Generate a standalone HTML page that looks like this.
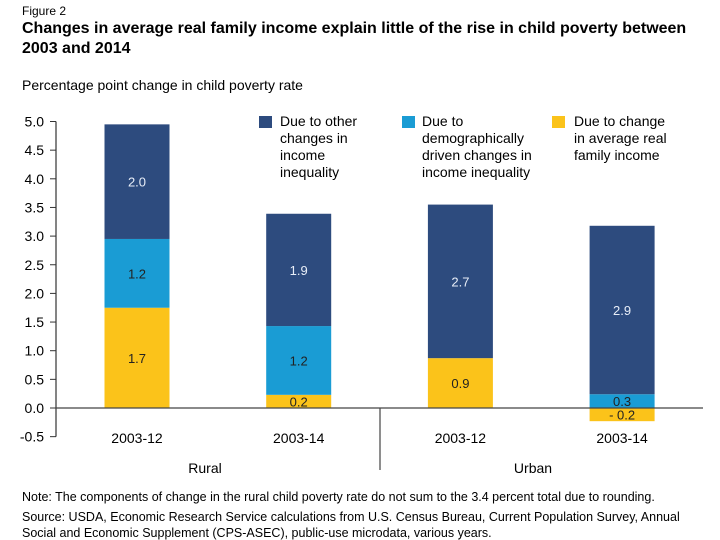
<!DOCTYPE html>
<html><head><meta charset="utf-8"><style>
body{margin:0;background:#fff;width:720px;height:540px;overflow:hidden;font-family:"Liberation Sans",Arial,sans-serif;color:#111}
svg{position:absolute;left:0;top:0}
</style></head><body>
<svg width="720" height="540" id="c">
<text x="22" y="15" font-size="12">Figure 2</text>
<text x="22" y="33" font-size="16" font-weight="bold">Changes in average real family income explain little of the rise in child poverty between</text>
<text x="22" y="53" font-size="16" font-weight="bold">2003 and 2014</text>
<text x="22" y="90" font-size="14">Percentage point change in child poverty rate</text>
<g id="plot"></g>
<g font-size="14">
<rect x="259" y="116" width="13" height="12" fill="#2d4b7e"/>
<text x="280" y="126"><tspan x="280">Due to other</tspan><tspan x="280" dy="17">changes in</tspan><tspan x="280" dy="17">income</tspan><tspan x="280" dy="17">inequality</tspan></text>
<rect x="402" y="116" width="13" height="12" fill="#1a9cd4"/>
<text x="422" y="126"><tspan x="422">Due to</tspan><tspan x="422" dy="17">demographically</tspan><tspan x="422" dy="17">driven changes in</tspan><tspan x="422" dy="17">income inequality</tspan></text>
<rect x="552" y="116" width="13" height="12" fill="#fbc31a"/>
<text x="574" y="126"><tspan x="574">Due to change</tspan><tspan x="574" dy="17">in average real</tspan><tspan x="574" dy="17">family income</tspan></text>
</g>
<text x="205" y="473" font-size="14" text-anchor="middle">Rural</text>
<text x="533" y="473" font-size="14" text-anchor="middle">Urban</text>
<g font-size="12.5">
<text x="22" y="501">Note: The components of change in the rural child poverty rate do not sum to the 3.4 percent total due to rounding.</text>
<text x="22" y="521">Source: USDA, Economic Research Service calculations from U.S. Census Bureau, Current Population Survey, Annual</text>
<text x="22" y="537">Social and Economic Supplement (CPS-ASEC), public-use microdata, various years.</text>
</g>
</svg>
<script>
const categories=["2003-12","2003-14","2003-12","2003-14"];
const incomeVals=[1.75,0.23,0.87,-0.23];
const demoVals=[1.2,1.2,0,0.24];
const otherVals=[2.0,1.96,2.68,2.94];
const incomeLabels=["1.7","0.2","0.9","- 0.2"];
const demoLabels=["1.2","1.2","","0.3"];
const otherLabels=["2.0","1.9","2.7","2.9"];
const yTicks=[5.0,4.5,4.0,3.5,3.0,2.5,2.0,1.5,1.0,0.5,0.0,-0.5];
const NS="http://www.w3.org/2000/svg";
const g=document.getElementById('plot');
const y0=408,ppu=57.3;
function y(v){return y0-v*ppu;}
function xc(i){return 137+i*161.7;}
function mk(t,a){const e=document.createElementNS(NS,t);for(const k in a)e.setAttribute(k,a[k]);g.appendChild(e);return e;}
const ax=mk('line',{x1:56,y1:y(5),x2:56,y2:y(-0.5),stroke:'#333','stroke-width':1.2});


yTicks.forEach(v=>{
 const t=mk('line',{x1:50,x2:56,y1:y(v),y2:y(v),stroke:'#333'});
 
 
 const l=mk('text',{x:44,y:y(v)+5,'font-size':14,'text-anchor':'end'});
 l.textContent=v.toFixed(1);
 
 
});
const colors={o:'#2d4b7e',d:'#1a9cd4',i:'#fbc31a'};
function seg(i,b,t,c,lab,name,txtCol){
 if(t===b)return;
 const r=mk('rect',{x:xc(i)-32.5,y:Math.min(y(b),y(t)),width:65,height:Math.abs(y(t)-y(b)),fill:c});
 
 
 if(lab){const tx=mk('text',{x:xc(i),y:(y(b)+y(t))/2+5,'font-size':13,'text-anchor':'middle',fill:txtCol});
 tx.textContent=lab;
 
 }
}
categories.forEach((c,i)=>{
 const inc=incomeVals[i],dem=demoVals[i],oth=otherVals[i];
 let pos=0;
 if(inc>=0){seg(i,0,inc,colors.i,incomeLabels[i],'bar-income',"#222");pos=inc;}
 else seg(i,inc,0,colors.i,incomeLabels[i],'bar-income',"#222");
 seg(i,pos,pos+dem,colors.d,demoLabels[i],'bar-demographic',"#222");pos+=dem;
 seg(i,pos,pos+oth,colors.o,otherLabels[i],'bar-other',"#e8eef8");
 const cl=mk('text',{x:xc(i),y:443,'font-size':14,'text-anchor':'middle'});
 cl.textContent=c;
 
 
});
const zl=mk('line',{x1:56,x2:703,y1:y0,y2:y0,stroke:'#444','stroke-width':1.2});


const dv=mk('line',{x1:380,x2:380,y1:y0,y2:470,stroke:'#444','stroke-width':1.2});


</script>
</body></html>
